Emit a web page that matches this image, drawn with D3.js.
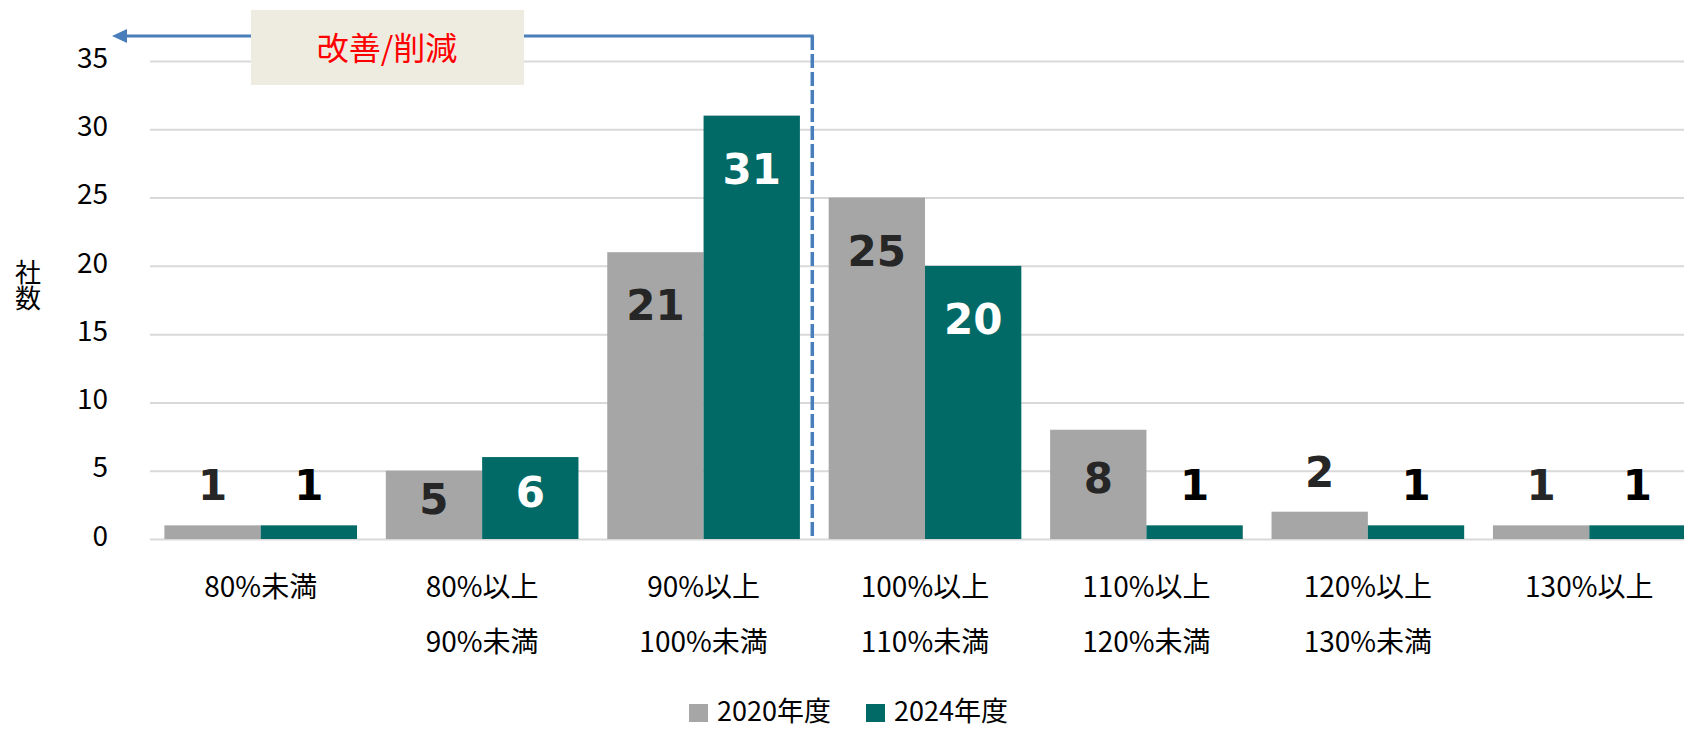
<!DOCTYPE html>
<html>
<head>
<meta charset="utf-8">
<script src="https://cdn.jsdelivr.net/npm/d3@7"></script>
<style>
  body { margin: 0; background: #fff; }
  text { font-family: "Noto Sans CJK JP", "Noto Sans", sans-serif; }
</style>
</head>
<body>
<script>
        // data
        var categories = ["80%未満", "80%以上\n90%未満", "90%以上\n100%未満", "100%以上\n110%未満",
                          "110%以上\n120%未満", "120%以上\n130%未満", "130%以上"];
        var seriesNames = ["2020年度", "2024年度"];
        var values2020 = [1, 5, 21, 25, 8, 2, 1];
        var values2024 = [1, 6, 31, 20, 1, 1, 1];
        var yTicks = [0, 5, 10, 15, 20, 25, 30, 35];
        var colors = ["#a6a6a6", "#016a66"];

        var width = 1684;
        var height = 731;
        var margin = {top: 61, left: 150, bottom: 192};

        var svg = d3.select("body").append("svg")
            .attr("width", width)
            .attr("height", height);

        var y = d3.scaleLinear()
            .domain([0, 35])
            .range([height - margin.bottom, margin.top]);

        var x = d3.scaleBand()
            .domain(categories)
            .range([margin.left, 1700])
            .paddingInner(0.13)
            .paddingOuter(0.065);

        var xs = d3.scaleBand()
            .domain(seriesNames)
            .range([0, x.bandwidth()]);

        // grid lines + tick labels
        var yAxis = d3.axisLeft(y)
            .tickValues(yTicks)
            .tickSize(-(width - margin.left))
            .tickPadding(42);

        var gy = svg.append("g")
            .attr("transform", "translate(" + margin.left + ",0)")
            .call(yAxis);
        gy.select(".domain").remove();
        gy.selectAll(".tick line")
            .attr("stroke", "#d9d9d9")
            .attr("stroke-width", 2);
        gy.selectAll(".tick text")
            .attr("font-size", 28)
            .attr("fill", "#000")
            .attr("dy", "0.22em")
            .style("font-family", "'Noto Sans CJK JP', sans-serif");

        // y title, written top to bottom
        svg.append("text")
            .attr("x", 28)
            .attr("y", 259)
            .attr("font-size", 26)
            .style("writing-mode", "vertical-rl")
            .style("text-orientation", "upright")
            .text("社数");

        var rows = categories.map(function(c, i){
            return {cat: c, vals: [values2020[i], values2024[i]]};
        });

        var groups = svg.selectAll("g.grp")
            .data(rows)
            .enter()
                .append("g")
                .attr("class", "grp")
                .attr("transform", function(d){ return "translate(" + x(d.cat) + ",0)"; });

        groups.selectAll("rect")
            .data(function(d){ return d.vals.map(function(v, j){ return {s: seriesNames[j], v: v, j: j}; }); })
            .enter()
                .append("rect")
                .attr("x", function(d){ return xs(d.s); })
                .attr("y", function(d){ return y(d.v); })
                .attr("width", xs.bandwidth())
                .attr("height", function(d){ return y(0) - y(d.v); })
                .attr("fill", function(d){ return colors[d.j]; });

        // value labels: inside the top for tall bars, above for short ones
        groups.selectAll("text.val")
            .data(function(d){ return d.vals.map(function(v, j){ return {s: seriesNames[j], v: v, j: j}; }); })
            .enter()
                .append("text")
                .attr("class", "val")
                .attr("x", function(d){ return xs(d.s) + xs.bandwidth() / 2; })
                .attr("y", function(d){
                    var h = y(0) - y(d.v);
                    if (h > 60) {
                        return y(d.v) + Math.min(53, h / 2 - 6);
                    }
                    return y(d.v) - 40;
                })
                .attr("dy", "0.36em")
                .attr("text-anchor", "middle")
                .attr("font-size", 42)
                .attr("font-weight", "bold")
                .style("font-family", "'DejaVu Sans', Verdana, sans-serif")
                .attr("fill", function(d){
                    var inside = (y(0) - y(d.v)) > 60;
                    if (d.j == 0) return "#262626";
                    return inside ? "#ffffff" : "#000000";
                })
                .text(function(d){ return d.v; });

        // category labels (two lines)
        groups.each(function(d){
            var lines = d.cat.split("\n");
            var g = d3.select(this);
            lines.forEach(function(t, k){
                g.append("text")
                    .attr("x", x.bandwidth() / 2)
                    .attr("y", 597 + k * 55)
                    .attr("text-anchor", "middle")
                    .attr("font-size", 28)
                    .text(t);
            });
        });

        // annotation: dashed divider + arrow + box
        var divX = x(categories[3]) - x.step() * x.paddingInner() / 2 - 2;
        var arrowY = 36;
        var blue = "#4a7ebb";

        svg.append("line")
            .attr("x1", divX).attr("y1", arrowY)
            .attr("x2", divX).attr("y2", y(0))
            .attr("stroke", blue)
            .attr("stroke-width", 3.5)
            .attr("stroke-dasharray", "14,4");

        svg.append("line")
            .attr("x1", divX + 1.5).attr("y1", arrowY)
            .attr("x2", 125).attr("y2", arrowY)
            .attr("stroke", blue)
            .attr("stroke-width", 3);

        svg.append("path")
            .attr("d", "M112," + arrowY + "L127," + (arrowY - 7) + "L127," + (arrowY + 7) + "Z")
            .attr("fill", blue);

        svg.append("rect")
            .attr("x", 251)
            .attr("y", 10)
            .attr("width", 273)
            .attr("height", 75)
            .attr("fill", "#eeece1");

        svg.append("text")
            .attr("x", 387)
            .attr("y", 60)
            .attr("text-anchor", "middle")
            .attr("font-size", 32)
            .attr("fill", "#ff0000")
            .text("改善/削減");

        // legend
        var legend = svg.selectAll("g.leg")
            .data(seriesNames)
            .enter()
                .append("g")
                .attr("class", "leg")
                .attr("transform", function(d, i){ return "translate(" + (689 + i * 177) + ",704)"; });
        legend.append("rect")
            .attr("width", 19)
            .attr("height", 18)
            .attr("fill", function(d, i){ return colors[i]; });
        legend.append("text")
            .attr("x", 28)
            .attr("y", 17)
            .attr("font-size", 27)
            .text(function(d){ return d; });
</script>
</body>
</html>
